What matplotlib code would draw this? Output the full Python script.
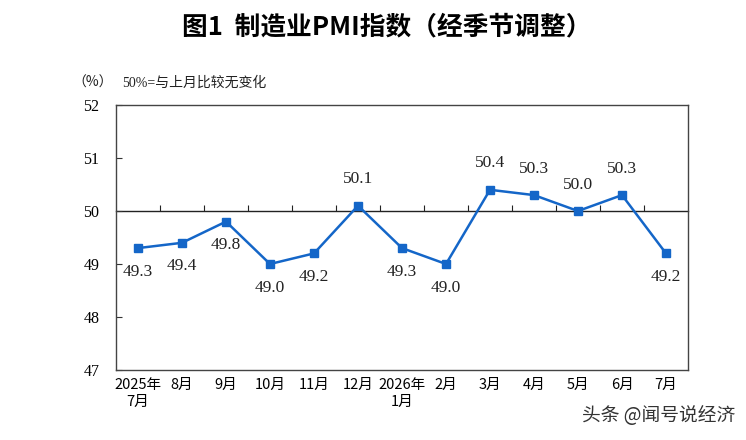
import matplotlib
matplotlib.use("Agg")
import matplotlib.pyplot as plt
import numpy as np

# -------- DATA --------
months = ["2025年\n7月", "8月", "9月", "10月", "11月", "12月", "2026年\n1月",
          "2月", "3月", "4月", "5月", "6月", "7月"]
pmi = [49.3, 49.4, 49.8, 49.0, 49.2, 50.1, 49.3, 49.0, 50.4, 50.3, 50.0, 50.3, 49.2]
label_above = [False, False, False, False, False, True, False, False, True, True, True, True, False]
y_ticks = [47, 48, 49, 50, 51, 52]
# ----------------------

LINE_COLOR = "#1466c8"
SERIF = ["Liberation Serif", "Noto Sans CJK SC"]
SANS = ["Noto Sans CJK SC", "DejaVu Sans"]


def main():
    fig = plt.figure(figsize=(7.46, 4.40), dpi=100)
    ax = fig.add_axes([116 / 746, 1 - 370 / 440, 572 / 746, 265 / 440])

    x = np.arange(len(pmi))
    ax.plot(x, pmi, color=LINE_COLOR, lw=1.8, marker="s", ms=5.5, zorder=3)

    for xi, v, up in zip(x, pmi, label_above):
        ax.annotate(f"{v:.1f}", (xi, v), textcoords="offset points",
                    xytext=(0, 19 if up else -17), ha="center", va="center",
                    fontsize=12.5, family=SERIF, color="#222222")

    ax.set_xlim(-0.5, len(pmi) - 0.5)
    ax.set_ylim(47, 52)
    ax.set_yticks(y_ticks)
    ax.set_yticklabels([str(t) for t in y_ticks], family=SERIF, fontsize=11.5)
    ax.tick_params(axis="y", direction="in", length=4, pad=12, color="#333333")
    ax.set_xticks(x)
    ax.set_xticklabels(months, family=SANS, fontsize=10.5, linespacing=1.2)
    ax.tick_params(axis="x", length=0, pad=6)
    for s in ax.spines.values():
        s.set_color("#444444")
        s.set_linewidth(1.0)

    # 50 line acting as the category axis, ticks between months
    sec = ax.secondary_xaxis(0.6)
    sec.set_xticks(x[:-1] + 0.5)
    sec.set_xticklabels([])
    sec.tick_params(direction="out", length=4, color="#222222")
    for s in sec.spines.values():
        s.set_color("#222222")
        s.set_linewidth(1.0)

    fig.text(387 / 746, 1 - 27 / 440, "图1  制造业PMI指数（经季节调整）", ha="center",
             va="center", fontsize=18.5, fontweight="bold", family=SANS)
    fig.text(72 / 746, 1 - 83 / 440, "（%）", ha="left", va="center",
             fontsize=10, family=SANS, color="#222222")
    fig.text(122 / 746, 1 - 83 / 440, "50%=与上月比较无变化", ha="left",
             va="center", fontsize=10, family=SERIF, color="#222222")
    fig.text(735 / 746, 1 - 415 / 440, "头条 @闻号说经济", ha="right",
             va="center", fontsize=13.5, family=SANS, color="#333333")

    fig.savefig("out.png", dpi=100)


if __name__ == "__main__":
    main()
